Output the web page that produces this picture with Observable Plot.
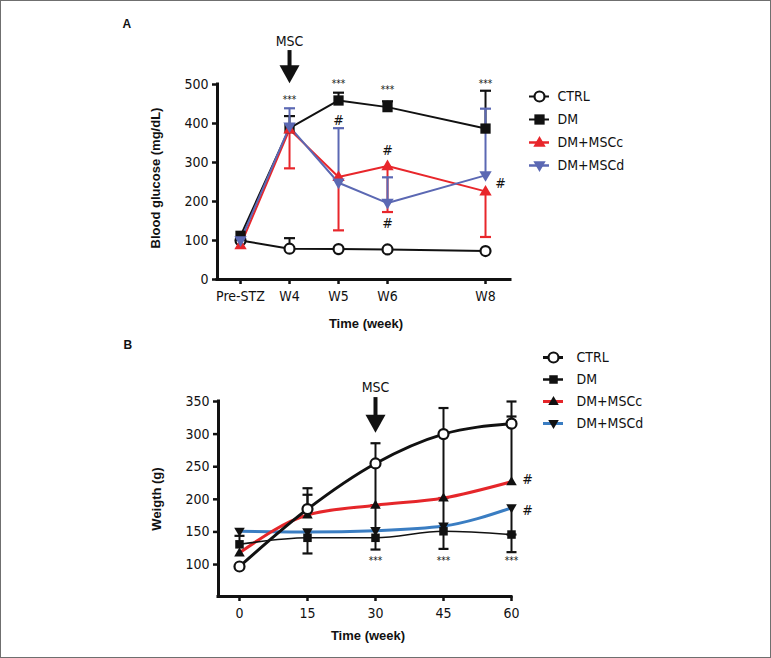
<!DOCTYPE html>
<html>
<head>
<meta charset="utf-8">
<script src="https://cdn.jsdelivr.net/npm/d3@7"></script>
<script src="https://cdn.jsdelivr.net/npm/@observablehq/plot@0.6"></script>
<style>
  body { margin: 0; background: #fff; }
  #wrap { position: relative; width: 771px; height: 658px; overflow: hidden; background: #fff; }
  #wrap svg { position: absolute; }
  #border { position: absolute; left: 0; top: 0; width: 771px; height: 658px; box-sizing: border-box; border: 1px solid #6f6f6f; pointer-events: none; }
</style>
</head>
<body>
<div id="wrap"><div id="border"></div></div>
<script>
const FONT = '"Liberation Sans Narrow","Arial Narrow","DejaVu Sans Condensed","Liberation Sans",sans-serif';
const BOLDFONT = '"Liberation Sans",Arial,sans-serif';

// ---------- shared ----------
const seriesNames = ["CTRL", "DM", "DM+MSCc", "DM+MSCd"];

// ---------- Panel A : blood glucose ----------
const weekLabelsA = ["Pre-STZ", "W4", "W5", "W6", "W8"];
const weekNumA = [3, 4, 5, 6, 8];
const glucoseCTRL = [100, 79, 78, 77, 73];
const glucoseDM = [112, 388, 459, 442, 387];
const glucoseMSCc = [88, 385, 263, 291, 226];
const glucoseMSCd = [100, 392, 248, 196, 267];
const glucoseErrCTRL = [null, 106, null, null, null];
const glucoseErrDM = [null, 419, 479, 457, 484];
const glucoseErrMSCc = [null, 285, 126, 173, 109];
const glucoseErrMSCd = [null, 439, 388, 262, 438];
const yTicksA = [0, 100, 200, 300, 400, 500];
const starWeeksA = [4, 5, 6, 8];
const starValuesA = [462, 503, 486, 503];
const hashWeeksA = [5, 6, 6];
const hashValuesA = [408, 331, 144];
const sideHashWeeksA = [8];
const sideHashValuesA = [246];
const mscWeekA = [4];

// ---------- Panel B : weight ----------
const timeB = [0, 15, 30, 45, 60];
const weightCTRL = [97, 185, 255, 300, 316];
const weightDM = [131, 141, 141, 151, 146];
const weightMSCc = [118, 176, 191, 202, 227];
const weightMSCd = [151, 150, 152, 159, 187];
const weightErrCTRL = [null, 217, 286, 340, 350];
const weightErrDM = [144, 117, 123, 124, 119];
const weightErrMSCc = [null, 207, 255, 300, 327];
const weightErrMSCd = [null, null, 191, 202, 146];
const yTicksB = [100, 150, 200, 250, 300, 350];
const starTimesB = [30, 45, 60];
const starValuesB = [106, 106, 106];
const sideHashTimesB = [60, 60];
const sideHashValuesB = [230, 183];
const mscTimeB = [30];

// ---------- styling ----------
const colorsA = ["#111111", "#111111", "#e8262b", "#5b68b3"];
const colorsB = ["#111111", "#111111", "#e5262a", "#3a7dc2"];

const triUp = {draw(ctx, size) { const r = Math.sqrt(size / Math.PI); const h = r * 1.15; ctx.moveTo(0, -h); ctx.lineTo(r * 1.1, h * 0.65); ctx.lineTo(-r * 1.1, h * 0.65); ctx.closePath(); }};
const triDown = {draw(ctx, size) { const r = Math.sqrt(size / Math.PI); const h = r * 1.15; ctx.moveTo(0, h); ctx.lineTo(r * 1.1, -h * 0.65); ctx.lineTo(-r * 1.1, -h * 0.65); ctx.closePath(); }};
const cap = {draw(ctx, size) { const w = Math.sqrt(size / Math.PI); ctx.moveTo(-w, 0); ctx.lineTo(w, 0); }};
const arrowHead = {draw(ctx) { ctx.moveTo(-10, -18); ctx.lineTo(10, -18); ctx.lineTo(0, 0); ctx.closePath(); }};

function rows(xs, values, errs) {
  return seriesNames.flatMap((name, s) => xs.map((x, i) => ({name, s, x, value: values[s][i], end: errs[s][i]})));
}

const rowsA = rows(weekNumA, [glucoseCTRL, glucoseDM, glucoseMSCc, glucoseMSCd],
  [glucoseErrCTRL, glucoseErrDM, glucoseErrMSCc, glucoseErrMSCd]);
const rowsB = rows(timeB, [weightCTRL, weightDM, weightMSCc, weightMSCd],
  [weightErrCTRL, weightErrDM, weightErrMSCc, weightErrMSCd]);

const symA = [
  {symbol: "circle", r: 5, fill: "#fff", stroke: colorsA[0], strokeWidth: 2.2},
  {symbol: "square", r: 5.8, fill: colorsA[1], stroke: "none"},
  {symbol: triUp, r: 5.6, fill: colorsA[2], stroke: "none"},
  {symbol: triDown, r: 5.6, fill: colorsA[3], stroke: "none"}
];
const symB = [
  {symbol: "circle", r: 5, fill: "#fff", stroke: "#111", strokeWidth: 2.2},
  {symbol: "square", r: 4.8, fill: "#111", stroke: "none"},
  {symbol: triUp, r: 4.8, fill: "#111", stroke: "none"},
  {symbol: triDown, r: 4.8, fill: "#111", stroke: "none"}
];
const lineWA = [2, 2, 2, 2];
const lineWB = [3, 1.6, 3, 3];

const baseStyle = {fontFamily: FONT, fontSize: "14px", color: "#111", background: "transparent", overflow: "visible"};

// ---------- Panel A plot ----------
const xDomA = [2.53, 8.51];
const yDomA = [0, 500];
const seriesMarksA = [];
for (const s of [0, 1, 2, 3]) {
  const d = rowsA.filter(r => r.s === s && r.end != null);
  seriesMarksA.push(Plot.ruleX(d, {x: "x", y1: "value", y2: "end", stroke: colorsA[s], strokeWidth: 2}));
  seriesMarksA.push(Plot.dot(d, {x: "x", y: "end", symbol: cap, r: 5.5, stroke: colorsA[s], strokeWidth: 2.2, fill: "none"}));
}
for (const s of [0, 1, 2, 3]) {
  seriesMarksA.push(Plot.line(rowsA.filter(r => r.s === s), {x: "x", y: "value", stroke: colorsA[s], strokeWidth: lineWA[s]}));
}
for (const s of [0, 1, 2, 3]) {
  seriesMarksA.push(Plot.dot(rowsA.filter(r => r.s === s), {x: "x", y: "value", ...symA[s]}));
}

const plotA = Plot.plot({
  width: 771, height: 330,
  marginLeft: 217, marginRight: 261, marginTop: 84, marginBottom: 51,
  x: {domain: xDomA}, y: {domain: yDomA},
  style: baseStyle,
  marks: [
    Plot.ruleY([yDomA[0]], {strokeWidth: 3, strokeLinecap: "square"}),
    Plot.ruleX([xDomA[0]], {y1: yDomA[0], y2: yDomA[1], strokeWidth: 3, strokeLinecap: "square"}),
    Plot.axisY({ticks: yTicksA, tickSize: 5, tickPadding: 4, strokeWidth: 2.5, label: null}),
    Plot.axisX({ticks: weekNumA, tickFormat: d => weekLabelsA[weekNumA.indexOf(d)], tickSize: 5, tickPadding: 7, strokeWidth: 2.5, label: null}),
    ...seriesMarksA,
    Plot.text(starWeeksA, {x: d => d, y: (d, i) => starValuesA[i], text: () => "***", fontSize: 10}),
    Plot.text(hashWeeksA, {x: d => d, y: (d, i) => hashValuesA[i], text: () => "#", fontSize: 14}),
    Plot.text(sideHashWeeksA, {x: d => d, y: (d, i) => sideHashValuesA[i], text: () => "#", fontSize: 14, dx: 15}),
    Plot.ruleX(mscWeekA, {x: d => d, y1: 587, y2: 545, strokeWidth: 4}),
    Plot.dot(mscWeekA, {x: d => d, y: 503, symbol: arrowHead, fill: "#111", stroke: "none"}),
    Plot.text(mscWeekA, {x: d => d, y: 610, text: () => "MSC", fontSize: 14}),
    Plot.text(["A"], {frameAnchor: "top-left", dx: -95, dy: -65, fontWeight: "bold", fontFamily: BOLDFONT, fontSize: 12}),
    Plot.text(["Blood glucose (mg/dL)"], {frameAnchor: "left", textAnchor: "middle", dx: -62, dy: -4, rotate: -90, fontWeight: "bold", fontFamily: BOLDFONT, fontSize: 13}),
    Plot.text(["Time (week)"], {frameAnchor: "bottom", textAnchor: "middle", lineAnchor: "middle", dx: 2, dy: 44, fontWeight: "bold", fontFamily: BOLDFONT, fontSize: 13})
  ]
});
plotA.style.left = "0px"; plotA.style.top = "0px";

// ---------- Panel B plot ----------
const xDomB = [-4.63, 60];
const yDomB = [51, 350];
const seriesMarksB = [];
for (const s of [0, 1, 2, 3]) {
  const d = rowsB.filter(r => r.s === s && r.end != null);
  seriesMarksB.push(Plot.ruleX(d, {x: "x", y1: "value", y2: "end", stroke: "#111", strokeWidth: 2}));
  seriesMarksB.push(Plot.dot(d, {x: "x", y: "end", symbol: cap, r: 5, stroke: "#111", strokeWidth: 2.2, fill: "none"}));
}
for (const s of [3, 2, 1, 0]) {
  seriesMarksB.push(Plot.line(rowsB.filter(r => r.s === s), {x: "x", y: "value", stroke: colorsB[s], strokeWidth: lineWB[s], curve: "monotone-x"}));
}
for (const s of [3, 2, 1, 0]) {
  seriesMarksB.push(Plot.dot(rowsB.filter(r => r.s === s), {x: "x", y: "value", ...symB[s]}));
}

const plotB = Plot.plot({
  width: 771, height: 328,
  marginLeft: 218, marginRight: 260, marginTop: 71, marginBottom: 62,
  x: {domain: xDomB}, y: {domain: yDomB},
  style: baseStyle,
  marks: [
    Plot.ruleY([yDomB[0]], {strokeWidth: 3, strokeLinecap: "square"}),
    Plot.ruleX([xDomB[0]], {y1: yDomB[0], y2: yDomB[1], strokeWidth: 3, strokeLinecap: "square"}),
    Plot.axisY({ticks: yTicksB, tickSize: 5, tickPadding: 4, strokeWidth: 2.5, label: null}),
    Plot.axisX({ticks: timeB, tickSize: 5, tickPadding: 7, strokeWidth: 2.5, label: null}),
    ...seriesMarksB,
    Plot.text(starTimesB, {x: d => d, y: (d, i) => starValuesB[i], text: () => "***", fontSize: 10}),
    Plot.text(sideHashTimesB, {x: d => d, y: (d, i) => sideHashValuesB[i], text: () => "#", fontSize: 14, dx: 16}),
    Plot.ruleX(mscTimeB, {x: d => d, y1: 356, y2: 326, strokeWidth: 4}),
    Plot.dot(mscTimeB, {x: d => d, y: 302, symbol: arrowHead, fill: "#111", stroke: "none"}),
    Plot.text(mscTimeB, {x: d => d, y: 371, text: () => "MSC", fontSize: 14}),
    Plot.text(["B"], {frameAnchor: "top-left", dx: -95, dy: -61, fontWeight: "bold", fontFamily: BOLDFONT, fontSize: 12}),
    Plot.text(["Weigth (g)"], {frameAnchor: "left", textAnchor: "middle", dx: -62, rotate: -90, fontWeight: "bold", fontFamily: BOLDFONT, fontSize: 13}),
    Plot.text(["Time (week)"], {frameAnchor: "bottom", textAnchor: "middle", lineAnchor: "middle", dx: 3, dy: 39, fontWeight: "bold", fontFamily: BOLDFONT, fontSize: 13})
  ]
});
plotB.style.left = "0px"; plotB.style.top = "330px";

// ---------- legends ----------
function legend(colors, syms, widths, rowGap, textDx) {
  const marks = [];
  seriesNames.forEach((name, s) => {
    marks.push(Plot.ruleY([name], {y: d => d, x1: 0, x2: 1, stroke: colors[s], strokeWidth: widths[s]}));
  });
  seriesNames.forEach((name, s) => {
    marks.push(Plot.dot([name], {x: 0.5, y: d => d, ...syms[s]}));
  });
  marks.push(Plot.text(seriesNames, {x: 1, y: d => d, text: d => d, dx: textDx, textAnchor: "start", fontSize: 14}));
  return Plot.plot({
    width: 160, height: 20 + rowGap * 3,
    marginLeft: 5, marginRight: 135, marginTop: 10, marginBottom: 10,
    x: {domain: [0, 1], axis: null},
    y: {type: "point", domain: seriesNames, padding: 0, axis: null},
    style: baseStyle,
    marks
  });
}
const legA = legend(colorsA, symA, [2, 2, 2.5, 2.5], 23.3, 8);
legA.style.left = "524px"; legA.style.top = "86px";
const legB = legend(colorsB, symB, [3, 2.5, 3, 3], 22.7, 13);
legB.style.left = "538px"; legB.style.top = "346px";

const wrap = document.getElementById("wrap");
wrap.insertBefore(plotA, wrap.firstChild);
wrap.insertBefore(plotB, wrap.firstChild);
wrap.insertBefore(legA, wrap.firstChild);
wrap.insertBefore(legB, wrap.firstChild);
</script>
</body>
</html>
